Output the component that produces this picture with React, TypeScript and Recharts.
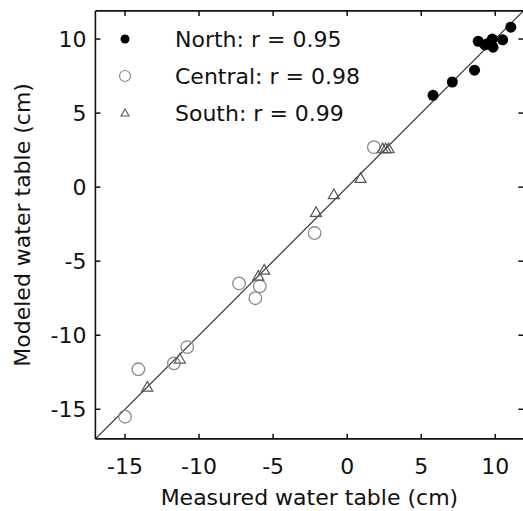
import React from "react";
import {
  ScatterChart,
  Scatter,
  XAxis,
  YAxis,
  ReferenceLine,
  Legend,
  Label,
} from "recharts";

const AXIS_MIN = -17;
const AXIS_MAX = 11.9;
const TICKS = [-15, -10, -5, 0, 5, 10];

const seriesNames = ["North", "Central", "South"];
const seriesR = [0.95, 0.98, 0.99];

const northMeasured = [5.8, 7.1, 8.6, 8.85, 9.3, 9.5, 9.8, 9.85, 10.5, 11.05];
const northModeled = [6.2, 7.1, 7.9, 9.85, 9.6, 9.7, 10.0, 9.45, 9.95, 10.8];

const centralMeasured = [-15.0, -14.1, -11.7, -10.8, -7.3, -5.9, -6.2, -2.2, 1.8];
const centralModeled = [-15.5, -12.3, -11.9, -10.8, -6.5, -6.7, -7.5, -3.1, 2.7];

const southMeasured = [-13.5, -11.3, -6.0, -5.6, -2.1, -0.9, 0.9, 2.4, 2.6, 2.8];
const southModeled = [-13.5, -11.6, -6.0, -5.6, -1.7, -0.5, 0.6, 2.6, 2.6, 2.6];

const toPoints = (xs: number[], ys: number[]) => xs.map((x, i) => ({ x, y: ys[i] }));

const northData = toPoints(northMeasured, northModeled);
const centralData = toPoints(centralMeasured, centralModeled);
const southData = toPoints(southMeasured, southModeled);

const FONT = "'DejaVu Sans', sans-serif";
const TICK_LEN = 0.34;

const NorthShape = (p: any) => <circle cx={p.cx} cy={p.cy} r={5.5} fill="#000" />;
const CentralShape = (p: any) => (
  <circle cx={p.cx} cy={p.cy} r={6.3} fill="none" stroke="#8a8a8a" strokeWidth={1.3} />
);
const SouthShape = (p: any) => {
  const s = 5.5;
  const { cx, cy } = p;
  return (
    <polygon
      points={`${cx},${cy - s} ${cx - s},${cy + s * 0.75} ${cx + s},${cy + s * 0.75}`}
      fill="none"
      stroke="#555"
      strokeWidth={1.2}
    />
  );
};

const LegendIcon = ({ i }: { i: number }) => (
  <svg width={20} height={20} style={{ display: "block" }}>
    {i === 0 && <circle cx={10} cy={10} r={4.5} fill="#000" />}
    {i === 1 && <circle cx={10} cy={10} r={5.5} fill="none" stroke="#8a8a8a" strokeWidth={1.2} />}
    {i === 2 && (
      <polygon points="10,6 6,13 14,13" fill="none" stroke="#555" strokeWidth={1.1} />
    )}
  </svg>
);

const renderLegend = () => (
  <div style={{ fontFamily: FONT, fontSize: 22, color: "#111" }}>
    {seriesNames.map((name, i) => (
      <div key={name} style={{ display: "flex", alignItems: "center", height: 37 }}>
        <div style={{ width: 20 }}>
          <LegendIcon i={i} />
        </div>
        <div style={{ marginLeft: 40, whiteSpace: "nowrap" }}>
          {`${name}: r = ${seriesR[i].toFixed(2)}`}
        </div>
      </div>
    ))}
  </div>
);

export default function App() {
  const tickStyle = { fontSize: 22, fontFamily: FONT, fill: "#111" };
  return (
    <div style={{ position: "absolute", left: 0, top: 0, width: 523, height: 511, overflow: "hidden", background: "#fff" }}>
      <ScatterChart
        width={530}
        height={511}
        margin={{ top: 10.9, right: 6.6, bottom: 0, left: 0 }}
      >
        <XAxis
          type="number"
          dataKey="x"
          domain={[AXIS_MIN, AXIS_MAX]}
          allowDataOverflow
          ticks={TICKS}
          interval={0}
          tickLine={false}
          tickSize={0}
          tickMargin={19}
          height={72.1}
          axisLine={{ stroke: "#111", strokeWidth: 1.6 }}
          tick={tickStyle}
        >
          <Label
            content={(props: any) => {
              const vb = props.viewBox;
              return (
                <text
                  x={vb.x + vb.width / 2}
                  y={505}
                  textAnchor="middle"
                  fontFamily={FONT}
                  fontSize={22}
                  fill="#111"
                >
                  Measured water table (cm)
                </text>
              );
            }}
          />
        </XAxis>
        <YAxis
          type="number"
          dataKey="y"
          domain={[AXIS_MIN, AXIS_MAX]}
          allowDataOverflow
          ticks={TICKS}
          interval={0}
          tickLine={false}
          tickSize={0}
          tickMargin={9}
          width={95.4}
          axisLine={{ stroke: "#111", strokeWidth: 1.6 }}
          tick={tickStyle}
        >
          <Label
            content={(props: any) => {
              const vb = props.viewBox;
              const cx = 23;
              const cy = vb.y + vb.height / 2;
              return (
                <text
                  x={cx}
                  y={cy}
                  transform={`rotate(-90, ${cx}, ${cy})`}
                  textAnchor="middle"
                  dominantBaseline="central"
                  fontFamily={FONT}
                  fontSize={22}
                  fill="#111"
                >
                  Modeled water table (cm)
                </text>
              );
            }}
          />
        </YAxis>

        <ReferenceLine y={AXIS_MAX} stroke="#111" strokeWidth={1.6} />

        {TICKS.map((t) => (
          <ReferenceLine
            key={`b${t}`}
            segment={[{ x: t, y: AXIS_MIN }, { x: t, y: AXIS_MIN + TICK_LEN }]}
            stroke="#111"
            strokeWidth={1.5}
          />
        ))}
        {TICKS.map((t) => (
          <ReferenceLine
            key={`t${t}`}
            segment={[{ x: t, y: AXIS_MAX }, { x: t, y: AXIS_MAX - TICK_LEN }]}
            stroke="#111"
            strokeWidth={1.5}
          />
        ))}
        {TICKS.map((t) => (
          <ReferenceLine
            key={`l${t}`}
            segment={[{ x: AXIS_MIN, y: t }, { x: AXIS_MIN + TICK_LEN, y: t }]}
            stroke="#111"
            strokeWidth={1.5}
          />
        ))}
        {TICKS.map((t) => (
          <ReferenceLine
            key={`r${t}`}
            segment={[{ x: AXIS_MAX, y: t }, { x: AXIS_MAX - TICK_LEN, y: t }]}
            stroke="#111"
            strokeWidth={1.5}
          />
        ))}

        <ReferenceLine
          segment={[{ x: AXIS_MIN, y: AXIS_MIN }, { x: AXIS_MAX, y: AXIS_MAX }]}
          stroke="#222"
          strokeWidth={1.1}
        />

        <Scatter name="North" data={northData} shape={NorthShape} isAnimationActive={false} />
        <Scatter name="Central" data={centralData} shape={CentralShape} isAnimationActive={false} />
        <Scatter name="South" data={southData} shape={SouthShape} isAnimationActive={false} />

        <Legend
          layout="vertical"
          align="center"
          verticalAlign="middle"
          content={renderLegend}
          wrapperStyle={{ left: 115, top: 20.5, width: "auto", height: "auto" }}
        />
      </ScatterChart>
    </div>
  );
}
